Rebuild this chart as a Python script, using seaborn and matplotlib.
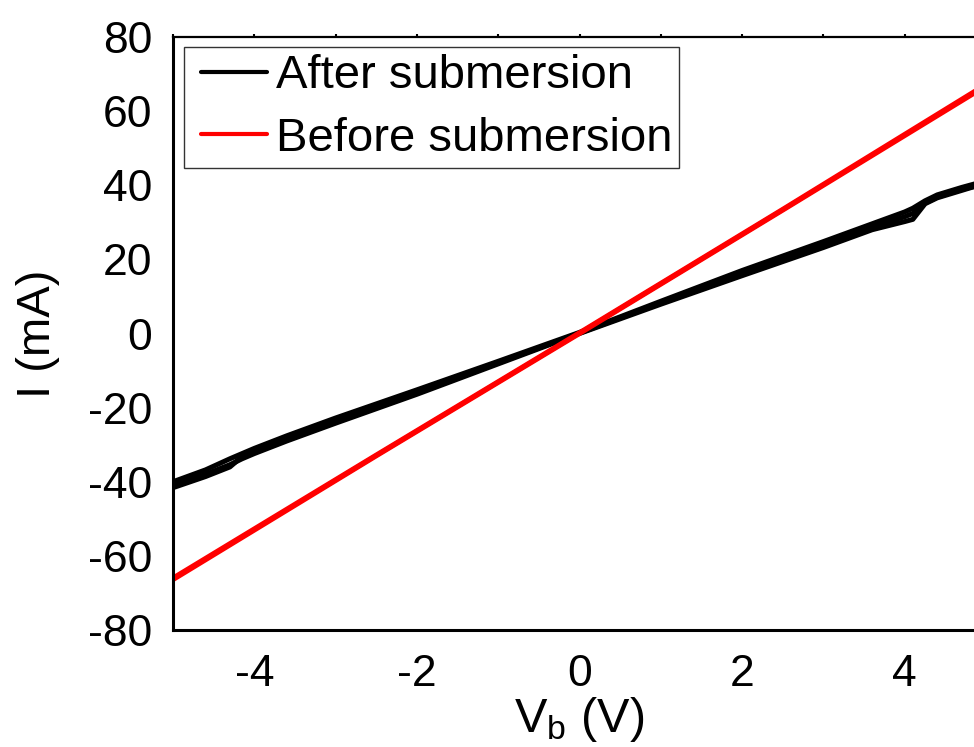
import matplotlib
matplotlib.use("Agg")
import matplotlib.pyplot as plt
from matplotlib.ticker import MultipleLocator
from matplotlib.lines import Line2D
from matplotlib.legend_handler import HandlerLine2D
import numpy as np
import pandas as pd
import seaborn as sns

# I-V sweeps of the device, bias voltage in V and current in mA
v_after = [-5.0, -4.6, -4.3, -4.15, -4.0, -3.6, -3.0, -2.0, -1.0, 0.0,
           1.0, 2.0, 3.0, 3.6, 4.0, 4.1, 4.25, 4.4, 4.7, 5.0]
i_after_sweep1 = [-41.2, -38.0, -35.4, -33.8, -32.4, -29.0, -24.2, -16.4, -8.2, 0.0,
                  7.9, 15.6, 23.2, 28.0, 30.2, 30.8, 35.0, 36.6, 38.6, 40.6]
i_after_sweep2 = [-40.0, -36.8, -33.8, -32.4, -31.0, -27.6, -22.8, -15.2, -7.5, 0.3,
                  8.7, 17.0, 24.8, 29.6, 32.8, 33.8, 35.8, 37.4, 39.4, 41.2]
i_after_sweep3 = [-41.6, -38.6, -36.0, -33.2, -31.8, -28.6, -23.8, -16.0, -7.9, 0.1,
                  8.3, 16.3, 24.0, 28.8, 31.5, 32.4, 35.2, 36.8, 38.9, 40.4]

v_before = [-5.0, -2.5, 0.0, 2.5, 5.0]
i_before_sweep1 = [-66.4, -33.0, 0.0, 33.3, 66.8]
i_before_sweep2 = [-66.0, -32.8, 0.2, 33.5, 67.2]

labels = ["After submersion", "Before submersion"]
colors = ["#000000", "#ff0000"]

frames = []
for k, cur in enumerate([i_after_sweep1, i_after_sweep2, i_after_sweep3]):
    frames.append(pd.DataFrame({"V": v_after, "I": cur, "sample": labels[0], "sweep": k}))
for k, cur in enumerate([i_before_sweep1, i_before_sweep2]):
    frames.append(pd.DataFrame({"V": v_before, "I": cur, "sample": labels[1], "sweep": 10 + k}))
df = pd.concat(frames, ignore_index=True)

sns.set_style("white")
plt.rcParams["font.family"] = ["Liberation Sans", "DejaVu Sans"]
plt.rcParams["mathtext.fontset"] = "custom"
plt.rcParams["mathtext.rm"] = "Liberation Sans"
plt.rcParams["mathtext.it"] = "Liberation Sans"
plt.rcParams["axes.unicode_minus"] = False
plt.rcParams["text.color"] = "black"
plt.rcParams["axes.labelcolor"] = "black"
plt.rcParams["xtick.color"] = "black"
plt.rcParams["ytick.color"] = "black"

fig = plt.figure(figsize=(9.74, 7.47), dpi=100)
ax = fig.add_axes([173 / 974, 1 - 630 / 747, 813 / 974, 593 / 747])

sns.lineplot(data=df, x="V", y="I", hue="sample", units="sweep", estimator=None,
             sort=False, palette=colors, hue_order=labels, linewidth=3.6, ax=ax)

ax.set_xlim(-5, 5)
ax.set_ylim(-80, 80)
ax.xaxis.set_major_locator(MultipleLocator(2))
ax.xaxis.set_minor_locator(MultipleLocator(1))
ax.yaxis.set_major_locator(MultipleLocator(20))
ax.yaxis.set_minor_locator(MultipleLocator(10))

ax.tick_params(axis="both", which="major", direction="out", length=8, width=1.5,
               labelsize=32, colors="black")
ax.tick_params(axis="y", which="major", pad=7)
ax.tick_params(axis="x", which="major", pad=9)
ax.tick_params(axis="both", which="minor", direction="out", length=4.3, width=1.5)
ax.tick_params(axis="x", which="both", top=True)

for side in ["left", "bottom"]:
    ax.spines[side].set_linewidth(2.2)
    ax.spines[side].set_color("black")
ax.spines["top"].set_linewidth(1.6)
ax.spines["top"].set_color("black")
ax.spines["right"].set_visible(False)

# short inward marks along the top spine
for tick in ax.xaxis.get_major_ticks() + ax.xaxis.get_minor_ticks():
    tick.tick2line.set_marker(2)
    tick.tick2line.set_markersize(2.5)

ax.set_xlabel(r"V$_\mathregular{b}$ (V)", fontsize=35, labelpad=0)
ax.set_ylabel("I (mA)", fontsize=34, labelpad=20)

handles, _ = ax.get_legend_handles_labels()
leg = ax.legend(handles=handles[:2], labels=labels, loc="upper left",
                bbox_to_anchor=(11 / 813, 1 - 10 / 593), borderaxespad=0,
                fontsize=34, frameon=True, fancybox=False, edgecolor="black",
                borderpad=0.15, labelspacing=0.4, handlelength=1.6,
                handletextpad=0.19,
                handler_map={Line2D: HandlerLine2D(xpad=0.2)})
leg.get_frame().set_linewidth(1.0)
for line in leg.get_lines():
    line.set_linewidth(3.0)

fig.savefig("out.png", dpi=100)
